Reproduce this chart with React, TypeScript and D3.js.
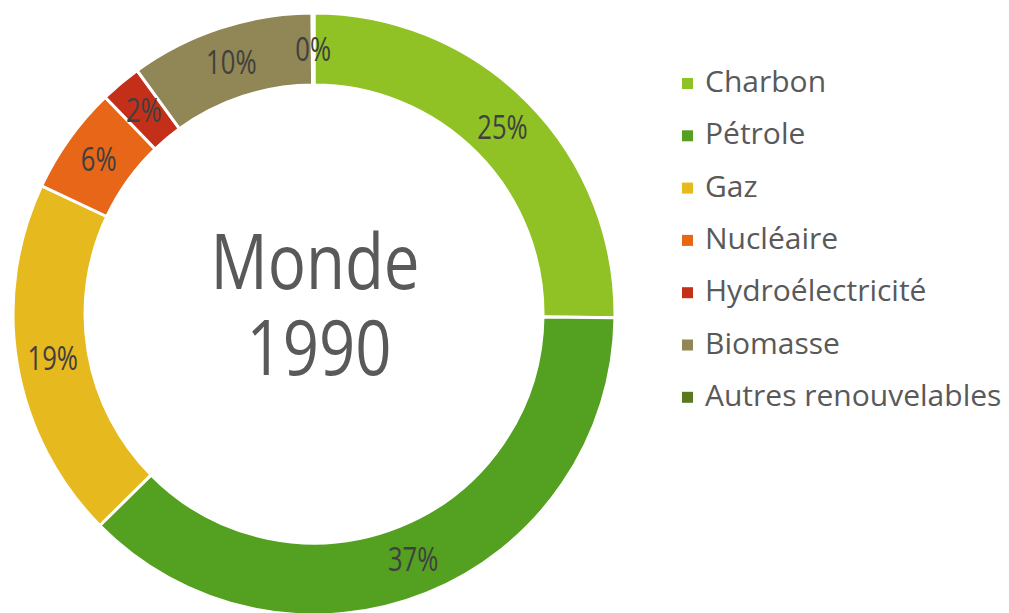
import React, { useEffect, useRef } from 'react';
import * as d3 from 'd3';

// energy mix, world, 1990 (percent)
const sources = ['Charbon', 'Pétrole', 'Gaz', 'Nucléaire', 'Hydroélectricité', 'Biomasse', 'Autres renouvelables'];
const shares = [25.2, 37.4, 19.4, 5.8, 2.2, 9.9, 0.1];
const colors = ['#90C226', '#54A021', '#E6B91E', '#E76618', '#C42F1A', '#918655', '#5A781D'];
const centerLines = ['Monde', '1990'];
const centerWidths = [209, 145];

const App: React.FC = () => {
  const svgRef = useRef<SVGSVGElement>(null);

  useEffect(() => {
    const svg = d3.select(svgRef.current);
    svg.selectAll('*').remove();

    const width = 1009;
    const height = 613;
    const cx = 314;
    const cy = 314;
    const outerR = 301;
    const innerR = 229;

    svg.attr('width', width).attr('height', height);

    const data = sources.map((name, i) => ({ name, value: shares[i], color: colors[i] }));

    const pie = d3.pie<any>().value((d: any) => d.value).sort(null);
    const arc = d3.arc<any>().innerRadius(innerR).outerRadius(outerR);
    const arcs = pie(data);

    const g = svg.append('g').attr('transform', `translate(${cx},${cy})`);

    g.selectAll('path')
      .data(arcs)
      .enter().append('path')
      .attr('d', arc as any)
      .attr('fill', (d: any) => d.data.color)
      .attr('stroke', '#fff')
      .attr('stroke-width', 3);

    // percent labels at ring middle (font squeezed a bit, original is a narrow face)
    const midR = (innerR + outerR) / 2;
    const labelArc = d3.arc<any>().innerRadius(midR).outerRadius(midR);
    g.selectAll('text.pct')
      .data(arcs)
      .enter().append('text')
      .attr('class', 'pct')
      .attr('transform', (d: any) => `translate(${labelArc.centroid(d)}) scale(0.8,1)`)
      .attr('text-anchor', 'middle')
      .attr('dy', '0.36em')
      .style('font-family', '"Open Sans", sans-serif')
      .style('font-size', '32px')
      .style('fill', '#404040')
      .text((d: any) => `${Math.round(d.data.value)}%`);

    // center title
    g.selectAll('text.title')
      .data(centerLines)
      .enter().append('text')
      .attr('class', 'title')
      .attr('text-anchor', 'middle')
      .attr('x', (_d: any, i: number) => (i === 0 ? 1 : 5))
      .attr('y', (_d: any, i: number) => (i === 0 ? -25 : 61))
      .attr('textLength', (_d: any, i: number) => centerWidths[i])
      .attr('lengthAdjust', 'spacingAndGlyphs')
      .style('font-family', '"Open Sans", sans-serif')
      .style('font-size', '76px')
      .style('fill', '#595959')
      .text((d: any) => d);

    // legend
    const legend = svg.append('g').attr('transform', 'translate(682,92)');
    const row = legend.selectAll('g')
      .data(data)
      .enter().append('g')
      .attr('transform', (_d: any, i: number) => `translate(0,${i * 52.3})`);

    row.append('rect')
      .attr('x', 0)
      .attr('y', -14)
      .attr('width', 11)
      .attr('height', 11)
      .attr('fill', (d: any) => d.color);

    row.append('text')
      .attr('x', 23)
      .attr('y', 0)
      .style('font-family', '"Open Sans", sans-serif')
      .style('font-size', '30px')
      .style('fill', '#595959')
      .text((d: any) => d.name);
  }, []);

  return (
    <div style={{ position: 'absolute', left: 0, top: 0, width: 1009, height: 613, background: '#fff' }}>
      <svg ref={svgRef} style={{ display: 'block' }}></svg>
    </div>
  );
};

export default App;
